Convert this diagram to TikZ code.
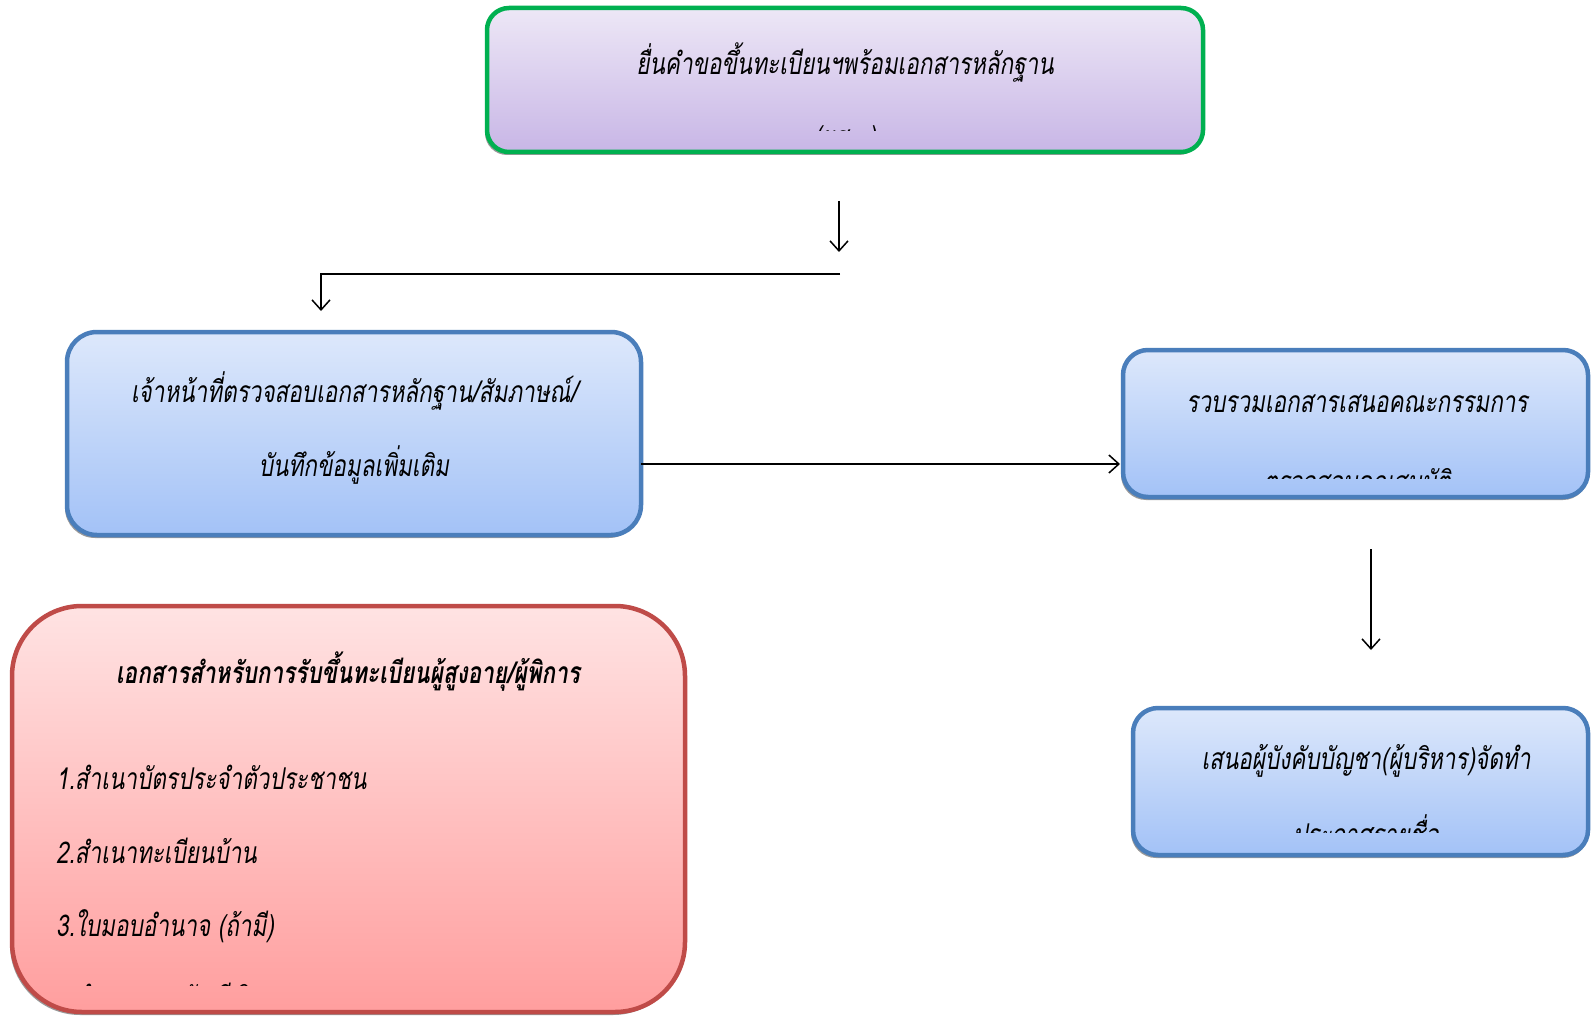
\documentclass[tikz,border=0pt]{standalone}
\usepackage{fontspec}
\usetikzlibrary{arrows.meta}
\newfontfamily\thai[Script=Thai,FakeStretch=0.75]{Loma}
\definecolor{grnB}{HTML}{00B050}
\definecolor{purT}{HTML}{EDE7F6}
\definecolor{purB}{HTML}{C8B6E6}
\definecolor{bluB}{HTML}{4A7EBB}
\definecolor{bluT}{HTML}{DDE8FB}
\definecolor{bluF}{HTML}{A3C2F7}
\definecolor{redB}{HTML}{BF4B48}
\definecolor{redT}{HTML}{FFE3E3}
\definecolor{redF}{HTML}{FF9E9E}
\tikzset{
  box/.style={rectangle, inner sep=0pt, line width=4.5pt},
  purbox/.style={box, draw=grnB, top color=purT, bottom color=purB, rounded corners=22pt},
  blubox/.style={box, draw=bluB, top color=bluT, bottom color=bluF},
  redbox/.style={box, draw=redB, top color=redT, bottom color=redF, rounded corners=70pt},
  shadowbox/.style={fill=black!40, draw=none},
  txt/.style={inner sep=0pt, font=\thai\itshape\fontsize{30}{30}\selectfont},
  ttl/.style={inner sep=0pt, font=\thai\bfseries\itshape\fontsize{30}{30}\selectfont},
  conn/.style={line width=1.5pt, -{Straight Barb[length=10pt,width=18pt,line width=1.5pt]}},
  plain/.style={line width=1.5pt}
}
\begin{document}
\begin{tikzpicture}[x=1pt,y=-1pt]
\useasboundingbox (0,0) rectangle (1592,1016);
% shadows
\fill[shadowbox, rounded corners=22pt] (485,11) rectangle (1201,155);
\fill[shadowbox, rounded corners=30pt] (65,335) rectangle (639,538);
\fill[shadowbox, rounded corners=25pt] (1121,353) rectangle (1588,500);
\fill[shadowbox, rounded corners=25pt] (1131,711) rectangle (1588,858);
\fill[shadowbox, rounded corners=70pt] (10,609) rectangle (683,1015);
% boxes
\node[purbox, minimum width=716pt, minimum height=144pt] (top) at (845,80) {};
\node[blubox, rounded corners=30pt, minimum width=574pt, minimum height=203pt] (chk) at (354,433.5) {};
\node[blubox, rounded corners=25pt, minimum width=465pt, minimum height=147pt] (col) at (1355.5,423.5) {};
\node[blubox, rounded corners=25pt, minimum width=455pt, minimum height=147pt] (prop) at (1360.5,781.5) {};
\node[redbox, minimum width=673pt, minimum height=406pt] (docs) at (348.5,809) {};
% texts
\node[txt] (t1) at (845,63) {ยื่นคำขอขึ้นทะเบียนฯพร้อมเอกสารหลักฐาน};
\begin{scope}
\clip (490,100) rectangle (1200,131);
\node[txt] (t1b) at (845,140) {(ผส.๑)};
\end{scope}
\node[txt] (c1) at (354,391) {เจ้าหน้าที่ตรวจสอบเอกสารหลักฐาน/สัมภาษณ์/};
\node[txt] (c2) at (354,465) {บันทึกข้อมูลเพิ่มเติม};
\node[txt] (r1) at (1357,404) {รวบรวมเอกสารเสนอคณะกรรมการ};
\begin{scope}
\clip (1126,440) rectangle (1586,478);
\node[txt] (r1b) at (1357,484) {ตรวจสอบคุณสมบัติ};
\end{scope}
\node[txt] (p1) at (1366,761) {เสนอผู้บังคับบัญชา(ผู้บริหาร)จัดทำ};
\begin{scope}
\clip (1136,795) rectangle (1586,832);
\node[txt] (p1b) at (1366,830) {ประกาศรายชื่อ};
\end{scope}
\node[ttl] (dt) at (348,672) {เอกสารสำหรับการรับขึ้นทะเบียนผู้สูงอายุ/ผู้พิการ};
\node[txt, anchor=west] (d1) at (56,777) {1.สำเนาบัตรประจำตัวประชาชน};
\node[txt, anchor=west] (d2) at (56,851) {2.สำเนาทะเบียนบ้าน};
\node[txt, anchor=west] (d3) at (56,926) {3.ใบมอบอำนาจ (ถ้ามี)};
\begin{scope}
\clip (20,950) rectangle (680,985);
\node[txt, anchor=west] (d4) at (56,1000) {4.สำเนาสมุดบัญชีเงินฝากธนาคาร};
\end{scope}
% connectors
\coordinate (a1s) at (839,201);
\coordinate (a1e) at (839,252);
\coordinate (hR) at (840,274);
\coordinate (hL) at (321,274);
\coordinate (a2e) at (321,311);
\coordinate (a3s) at (641,464);
\coordinate (a3e) at (1120,464);
\coordinate (a4s) at (1371,549);
\coordinate (a4e) at (1371,650);
\draw[conn] (a1s) -- (a1e);
\draw[conn] (hR) -- (hL) -- (a2e);
\draw[conn] (a3s) -- (a3e);
\draw[conn] (a4s) -- (a4e);
\end{tikzpicture}
\end{document}
